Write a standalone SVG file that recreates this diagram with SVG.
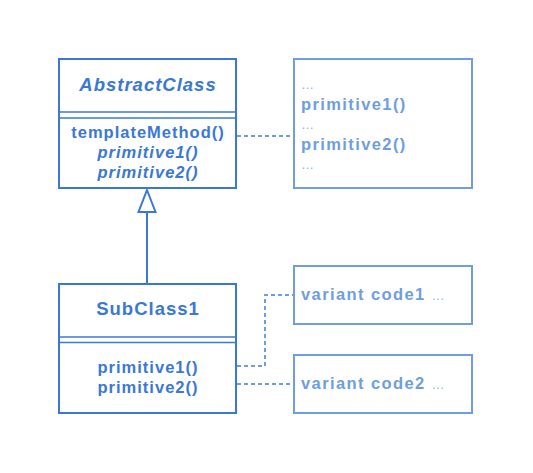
<svg xmlns="http://www.w3.org/2000/svg" width="533" height="473" viewBox="0 0 533 473">
<style>
.cls{fill:#fff;stroke:#3a78d4;stroke-width:2}
.sep{stroke:#3a78d4;stroke-width:1.5}
.note{fill:#fff;stroke:#6e9ee0;stroke-width:2}
.t{font-family:"Liberation Sans",Arial,sans-serif;font-weight:bold;fill:#3a78d4;letter-spacing:1px}
.h{font-size:18.5px}
.m{font-size:16.5px}
.n{font-family:"Liberation Sans",Arial,sans-serif;font-weight:bold;fill:#6e9ee0;font-size:16.5px;letter-spacing:1.4px}
.d{font-family:"Liberation Sans",Arial,sans-serif;font-weight:normal;fill:#8fb3e8;font-size:13px;letter-spacing:1px}
.dash{fill:none;stroke:#6e9ee0;stroke-width:2;stroke-dasharray:4,3}
</style>
<rect width="533" height="473" fill="#fff"/>
<g id="connectors">
<path class="dash" d="M237,136 H294"/>
<path class="dash" d="M237,366 H265 V295 H294"/>
<path class="dash" d="M237,384 H294"/>
<path d="M147,284 V212" fill="none" stroke="#3a78d4" stroke-width="2"/>
<path d="M147,190 L155.5,212 H138.5 Z" fill="#fff" stroke="#3a78d4" stroke-width="2"/>
</g>
<g id="AbstractClass">
<rect class="cls" x="59" y="59" width="177" height="129"/>
<line class="sep" x1="59" y1="112" x2="236" y2="112"/>
<line class="sep" x1="59" y1="118" x2="236" y2="118"/>
<text class="t h" x="148" y="91" text-anchor="middle" font-style="italic">AbstractClass</text>
<text class="t m" x="148" y="138" text-anchor="middle">templateMethod()</text>
<text class="t m" x="148" y="158" text-anchor="middle" font-style="italic">primitive1()</text>
<text class="t m" x="148" y="178" text-anchor="middle" font-style="italic">primitive2()</text>
</g>
<g id="TemplateNote">
<rect class="note" x="294" y="59" width="178" height="129"/>
<text class="d" x="301" y="89">…</text>
<text class="n" x="301" y="110">primitive1()</text>
<text class="d" x="301" y="129">…</text>
<text class="n" x="301" y="150">primitive2()</text>
<text class="d" x="301" y="169">…</text>
</g>
<g id="SubClass1">
<rect class="cls" x="59" y="284" width="177" height="129"/>
<line class="sep" x1="59" y1="337" x2="236" y2="337"/>
<line class="sep" x1="59" y1="342.5" x2="236" y2="342.5"/>
<text class="t h" x="148" y="315" text-anchor="middle">SubClass1</text>
<text class="t m" x="148" y="373" text-anchor="middle">primitive1()</text>
<text class="t m" x="148" y="393" text-anchor="middle">primitive2()</text>
</g>
<g id="Variant1">
<rect class="note" x="294" y="266" width="178" height="58"/>
<text class="n" x="301" y="300">variant code1 <tspan class="d">…</tspan></text>
</g>
<g id="Variant2">
<rect class="note" x="294" y="355" width="178" height="58"/>
<text class="n" x="301" y="389">variant code2 <tspan class="d">…</tspan></text>
</g>
</svg>
